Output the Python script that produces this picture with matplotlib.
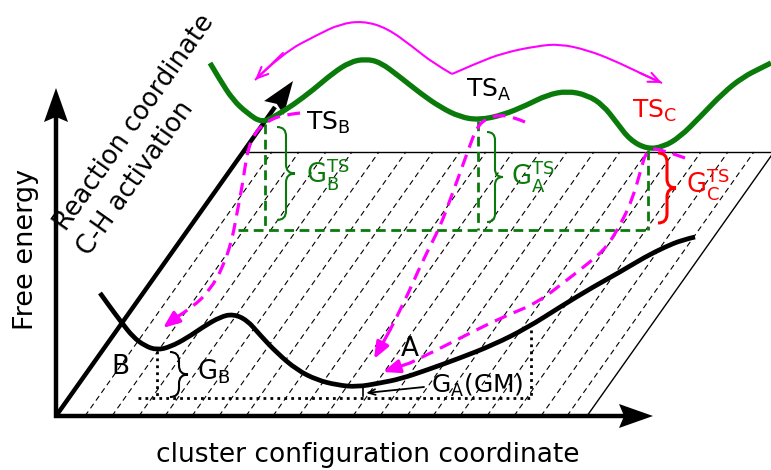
import numpy as np
import matplotlib
matplotlib.use('Agg')
import matplotlib.pyplot as plt
from matplotlib.path import Path
from matplotlib.patches import PathPatch, Polygon

# All coordinates in pixels (x to the right, y down)

# free energy along the C-H activation coordinate (green, top)
green_x = [210, 220, 233, 247, 262, 277, 293, 313, 333, 350, 365, 380, 400,
           420, 440, 460, 479, 503, 527, 547, 567, 587, 603, 617, 630, 647,
           663, 680, 700, 723, 743, 763, 771]
green_y = [63, 80, 100, 113, 123, 115, 105, 90, 73, 62, 59, 62, 77,
           93, 107, 117, 120, 115, 105, 95, 91, 95, 105, 123, 140, 149,
           147, 137, 117, 93, 77, 67, 63]

# free energy along the cluster configuration coordinate (black, bottom)
black_x = [100, 110, 122, 133, 145, 157, 170, 187, 203, 220, 233, 247, 260,
           277, 297, 317, 337, 357, 380, 400, 427, 460, 493, 527, 560, 593,
           620, 645, 665, 682, 695]
black_y = [293, 307, 323, 337, 346, 350, 347, 338, 327, 317, 314, 320, 335,
           353, 370, 380, 385, 387, 383, 379, 370, 358, 345, 328, 307, 287,
           272, 257, 247, 240, 237]

# magenta solid hops between transition states
hop_left_x = [452, 433, 413, 387, 363, 340, 317, 283, 255]
hop_left_y = [74, 63, 47, 28, 21, 24, 35, 53, 80]
hop_right_x = [452, 477, 503, 537, 560, 587, 613, 640, 662]
hop_right_y = [74, 63, 53, 46, 44, 50, 60, 73, 83]

# magenta dashed relaxation paths
relax_b_x = [300, 283, 270, 260, 253, 248, 245, 242, 237, 232, 223, 210, 193, 177, 163]
relax_b_y = [113, 115, 120, 127, 137, 150, 167, 187, 213, 240, 267, 290, 307, 317, 328]
relax_a_x = [525, 513, 500, 487, 477, 470, 460, 450, 440, 423, 403, 390, 374]
relax_a_y = [122, 117, 115, 118, 127, 145, 173, 200, 227, 260, 305, 330, 359]
relax_c_x = [685, 663, 647, 640, 633, 623, 607, 590, 567, 537, 503, 470, 437, 410, 383]
relax_c_y = [158, 150, 148, 173, 197, 220, 247, 262, 280, 303, 317, 333, 350, 363, 372]

# hatching of the configuration plane (bottom ends, y = 416)
hatch_x = [85, 112, 139, 165, 192, 219, 246, 273, 299, 326, 353, 380, 407,
           433, 460, 487, 514, 541, 567]
plane_bottom, plane_top = 416, 152
plane_slope = 0.708

# transition-state drop lines (green dashed)
ts_x = [265, 478, 648]
ts_y = [124, 121, 150]
ts_base = 230

W, H = 771, 470
fig = plt.figure(figsize=(W / 100, H / 100), dpi=100)
ax = fig.add_axes([0, 0, 1, 1])
ax.set_xlim(0, W)
ax.set_ylim(H, 0)
ax.axis('off')

GREEN = '#0a7a0a'
MAG = '#ff00ff'
RED = '#ff0000'


def smooth(xs, ys):
    # read points act as quadratic Bezier controls
    pts = list(zip(xs, ys))
    verts, codes = [pts[0]], [Path.MOVETO]
    for i in range(1, len(pts) - 1):
        if i == len(pts) - 2:
            end = pts[-1]
        else:
            end = ((pts[i][0] + pts[i + 1][0]) / 2, (pts[i][1] + pts[i + 1][1]) / 2)
        verts += [pts[i], end]
        codes += [Path.CURVE3, Path.CURVE3]
    return Path(verts, codes)


def draw_curve(xs, ys, **kw):
    ax.add_patch(PathPatch(smooth(xs, ys), fill=False, **kw))


# plane hatching
for x0 in hatch_x:
    x1 = x0 + plane_slope * (plane_bottom - plane_top)
    ax.plot([x0, x1], [plane_bottom, plane_top], color='k', lw=0.8,
            dashes=(5, 3.5), zorder=1)
ax.plot([243, W], [plane_top, plane_top], color='k', lw=1.0, zorder=1)
ax.plot([587, 587 + plane_slope * (plane_bottom - plane_top)],
        [plane_bottom, plane_top], color='k', lw=1.0, zorder=1)

# green dashed drop lines
for x, y in zip(ts_x, ts_y):
    ax.plot([x, x], [y, ts_base], color=GREEN, lw=2.0, dashes=(3.5, 2), zorder=2)
ax.plot([238, ts_x[-1]], [ts_base, ts_base], color=GREEN, lw=2.0,
        dashes=(3.5, 2), zorder=2)

# black dotted reference lines
ax.plot([138, 532], [398, 398], color='k', lw=2.0, ls=(0, (1, 1.5)), zorder=2)
ax.plot([157, 157], [351, 398], color='k', lw=2.0, ls=(0, (1, 1.5)), zorder=2)
ax.plot([531, 531], [330, 398], color='k', lw=2.0, ls=(0, (1, 1.5)), zorder=2)


def arrow_head(tip, tail, length, half, color='k', z=5):
    tip = np.array(tip, float)
    d = tip - np.array(tail, float)
    d /= np.hypot(*d)
    p = np.array([-d[1], d[0]])
    base = tip - length * d
    notch = tip - 0.85 * length * d
    pts = [tip, base + half * p, notch, base - half * p]
    ax.add_patch(Polygon(pts, closed=True, color=color, lw=0, zorder=z))


# axes
ax.plot([56, 56], [418, 115], color='k', lw=3.2, solid_capstyle='butt', zorder=4)
arrow_head((56, 88), (56, 416), 34, 12)
ax.plot([54, 625], [416, 416], color='k', lw=3.2, solid_capstyle='butt', zorder=4)
arrow_head((653, 416), (56, 416), 34, 12)
ax.plot([56, 275], [416, 107], color='k', lw=3.2, solid_capstyle='butt', zorder=4)
arrow_head((293, 81), (56, 416), 33, 12)

# energy curves
draw_curve(black_x, black_y, ec='k', lw=3.4, capstyle='butt', zorder=6)
draw_curve(green_x, green_y, ec=GREEN, lw=3.8, capstyle='butt', zorder=6)

# magenta solid hops with open heads
for hx, hy in [(hop_left_x, hop_left_y), (hop_right_x, hop_right_y)]:
    draw_curve(hx, hy, ec=MAG, lw=1.5, zorder=7)
    ax.annotate('', xy=(hx[-1], hy[-1]), xytext=(hx[-2], hy[-2]),
                arrowprops=dict(arrowstyle='->,head_length=0.8,head_width=0.35',
                                color=MAG, lw=1.5, shrinkA=0, shrinkB=0),
                zorder=7)

# magenta dashed relaxations with filled heads
for rx, ry in [(relax_b_x, relax_b_y), (relax_a_x, relax_a_y),
               (relax_c_x, relax_c_y)]:
    draw_curve(rx[:-1], ry[:-1], ec=MAG, lw=2.3, ls=(0, (4, 2.4)), zorder=8)
    ax.annotate('', xy=(rx[-1], ry[-1]), xytext=(rx[-2], ry[-2]),
                arrowprops=dict(arrowstyle='-|>,head_length=1.0,head_width=0.4',
                                color=MAG, lw=2.3, shrinkA=0, shrinkB=0),
                zorder=8)


def brace(x, y0, y1, w, color, lw):
    ym = (y0 + y1) / 2
    h = w / 2
    verts = [(x, y0), (x + h, y0), (x + h, y0 + h), (x + h, ym - h),
             (x + h, ym), (x + w, ym), (x + h, ym), (x + h, ym + h),
             (x + h, y1 - h), (x + h, y1), (x, y1)]
    codes = [Path.MOVETO, Path.CURVE3, Path.CURVE3, Path.LINETO,
             Path.CURVE3, Path.CURVE3, Path.CURVE3, Path.CURVE3,
             Path.LINETO, Path.CURVE3, Path.CURVE3]
    ax.add_patch(PathPatch(Path(verts, codes), fill=False, ec=color, lw=lw,
                           zorder=7))


brace(277, 127, 220, 18, GREEN, 1.5)
brace(487, 132, 222, 16, GREEN, 1.5)
brace(658, 153, 223, 18, RED, 2.2)
brace(170, 352, 397, 18, 'k', 1.5)

# G_A(GM) pointer
ax.annotate('', xy=(366, 393), xytext=(424, 387),
            arrowprops=dict(arrowstyle='->,head_length=0.5,head_width=0.2',
                            color='k', lw=1.3, shrinkA=0, shrinkB=0), zorder=7)
ax.plot([363, 363], [387, 396], color='k', lw=1.2, zorder=7)

# labels
ax.text(33, 249, 'Free energy', rotation=90, fontsize=19.5, ha='center',
        va='baseline', rotation_mode='anchor')
ax.text(368, 462, 'cluster configuration coordinate', fontsize=19,
        ha='center', va='baseline')
ax.text(66, 232, 'Reaction coordinate', rotation=54.8, fontsize=18.5,
        ha='left', va='baseline', rotation_mode='anchor')
ax.text(89, 257, 'C-H activation', rotation=54.8, fontsize=18.5,
        ha='left', va='baseline', rotation_mode='anchor')

ax.text(306, 130, r'$\mathregular{TS_B}$', fontsize=18, va='baseline')
ax.text(466, 97, r'$\mathregular{TS_A}$', fontsize=18, va='baseline')
ax.text(632, 118, r'$\mathregular{TS_C}$', fontsize=18, color=RED, va='baseline')
ax.text(306, 183, r'$\mathregular{G_B^{TS}}$', fontsize=18.5, color=GREEN, va='baseline')
ax.text(511, 185, r'$\mathregular{G_A^{TS}}$', fontsize=18.5, color=GREEN, va='baseline')
ax.text(686, 193, r'$\mathregular{G_C^{TS}}$', fontsize=18.5, color=RED, va='baseline')
ax.text(197, 380, r'$\mathregular{G_B}$', fontsize=18.5, va='baseline')
ax.text(111, 374, 'B', fontsize=19, va='baseline')
ax.text(401, 356, 'A', fontsize=19, va='baseline')
ax.text(431, 393, r'$\mathregular{G_A(GM)}$', fontsize=18, va='baseline')

fig.savefig('out.png', dpi=100)
